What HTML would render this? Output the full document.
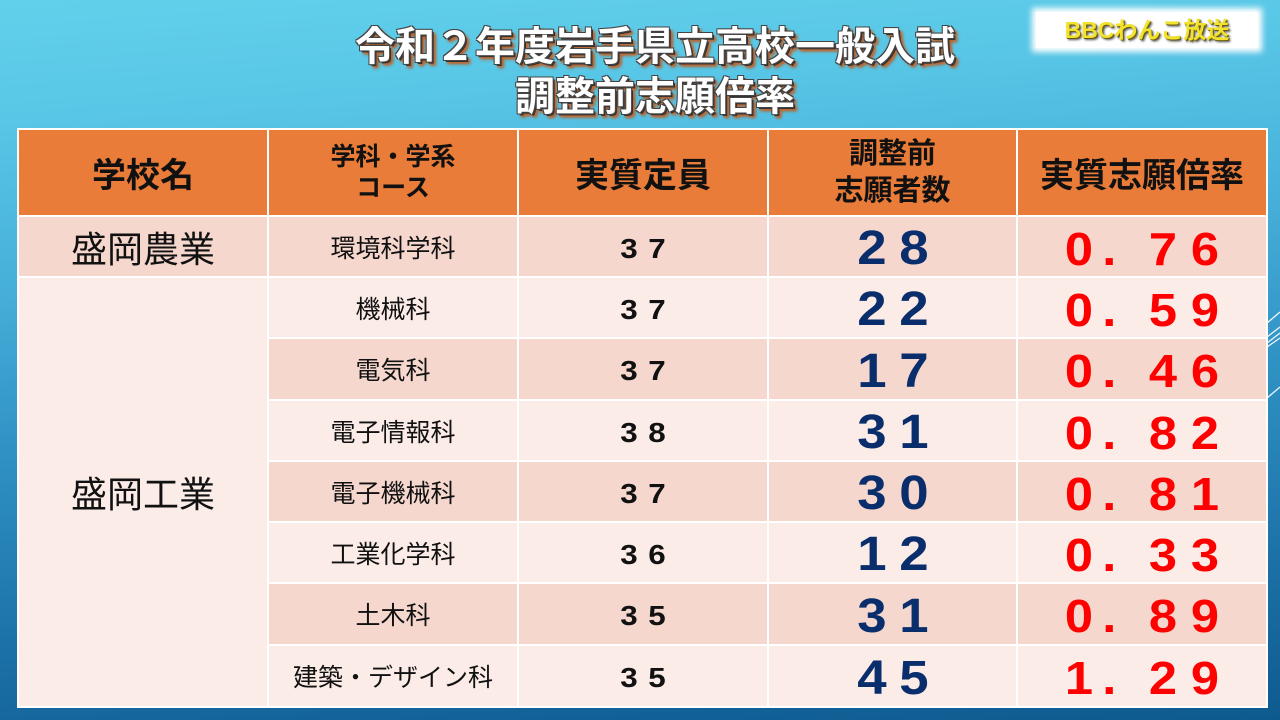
<!DOCTYPE html>
<html><head><meta charset="utf-8">
<style>
html,body{margin:0;padding:0;}
body{width:1280px;height:720px;overflow:hidden;position:relative;
background:linear-gradient(176deg,#61d1eb 0%,#58c6e6 15%,#47b0da 35%,#3193c5 55%,#1d74aa 78%,#0e5a8f 100%);
font-family:"Liberation Sans","Noto Sans CJK JP",sans-serif;}
.title{position:absolute;left:0;width:1310px;text-align:center;color:#fff;font-weight:bold;font-size:40px;line-height:50px;
font-family:"Liberation Sans","Noto Sans CJK JP",sans-serif;
text-shadow:-1px -1px 0 #444,1px -1px 0 #444,-1px 1px 0 #444,1px 1px 0 #444,2px 2px 0 #333,3px 3px 2px #c8682e,4px 4px 3px #b85a20;}
.logo{position:absolute;left:1036px;top:12px;width:222px;height:36px;background:#fff;box-shadow:0 0 6px 4px #fff;
text-align:center;line-height:36px;font-size:23px;font-weight:bold;color:#f2e22c;
text-shadow:1px 1px 0 #6a5a10,2px 2px 2px #555;}
.tbl{position:absolute;left:17px;top:128px;width:1251px;height:580px;background:#fff;}
.c{position:absolute;display:flex;align-items:center;justify-content:center;text-align:center;box-sizing:border-box;}
.h{background:#e97c39;color:#111;font-weight:bold;}
.d{background:#f5d7ce;}
.l{background:#fbece8;}
.sub{font-size:25px;color:#111;}
.sch{font-size:36px;color:#111;}
.n3,.nb,.nr{padding-top:4px;}
.n3 span{display:inline-block;width:28px;text-align:center;font-size:28px;font-weight:bold;color:#111;transform:scaleX(1.12);}
.nb span{display:inline-block;width:42px;text-align:center;font-size:48px;font-weight:bold;color:#0a2d6c;transform:scaleX(1.1);}
.nr span{display:inline-block;width:42px;text-align:center;font-size:46px;font-weight:bold;color:#ff0000;transform:scaleX(1.1);}
.nr span.p{text-align:left;text-indent:4px;}
</style></head><body>
<div class="title" style="top:22px;">令和２年度岩手県立高校一般入試</div>
<div class="title" style="top:72px;">調整前志願倍率</div>
<div class="logo">BBCわんこ放送</div>

<svg style="position:absolute;left:1262px;top:300px" width="18" height="110">
<g stroke="#fff" stroke-width="1.3" opacity="0.9">
<line x1="5" y1="23" x2="18" y2="12"/>
<line x1="5" y1="37" x2="18" y2="27"/>
<line x1="5" y1="43" x2="18" y2="33"/>
<line x1="5" y1="47" x2="18" y2="38"/>
<line x1="5" y1="98" x2="18" y2="87"/>
</g></svg>

<div class="tbl">
<!-- header -->
<div class="c h" style="left:2px;top:2px;width:248px;height:85px;font-size:34px;">学校名</div>
<div class="c h" style="left:252px;top:2px;width:248px;height:85px;font-size:25px;line-height:31px;">学科・学系<br>コース</div>
<div class="c h" style="left:502px;top:2px;width:248px;height:85px;font-size:34px;">実質定員</div>
<div class="c h" style="left:752px;top:2px;width:247px;height:85px;font-size:29px;line-height:37px;">調整前<br>志願者数</div>
<div class="c h" style="left:1001px;top:2px;width:248px;height:85px;font-size:34px;">実質志願倍率</div>

<!-- school names -->
<div class="c d sch" style="left:2px;top:89px;width:248px;height:59px;">盛岡農業</div>
<div class="c l sch" style="left:2px;top:150px;width:248px;height:428px;">盛岡工業</div>

<!-- rows -->
<div class="c d sub" style="left:252px;top:89px;width:248px;height:59px;">環境科学科</div>
<div class="c d n3" style="left:502px;top:89px;width:248px;height:59px;"><span>3</span><span>7</span></div>
<div class="c d nb" style="left:752px;top:89px;width:247px;height:59px;"><span>2</span><span>8</span></div>
<div class="c d nr" style="left:1001px;top:89px;width:248px;height:59px;"><span>0</span><span class="p">.</span><span>7</span><span>6</span></div>

<div class="c l sub" style="left:252px;top:150px;width:248px;height:59px;">機械科</div>
<div class="c l n3" style="left:502px;top:150px;width:248px;height:59px;"><span>3</span><span>7</span></div>
<div class="c l nb" style="left:752px;top:150px;width:247px;height:59px;"><span>2</span><span>2</span></div>
<div class="c l nr" style="left:1001px;top:150px;width:248px;height:59px;"><span>0</span><span class="p">.</span><span>5</span><span>9</span></div>

<div class="c d sub" style="left:252px;top:211px;width:248px;height:60px;">電気科</div>
<div class="c d n3" style="left:502px;top:211px;width:248px;height:60px;"><span>3</span><span>7</span></div>
<div class="c d nb" style="left:752px;top:211px;width:247px;height:60px;"><span>1</span><span>7</span></div>
<div class="c d nr" style="left:1001px;top:211px;width:248px;height:60px;"><span>0</span><span class="p">.</span><span>4</span><span>6</span></div>

<div class="c l sub" style="left:252px;top:273px;width:248px;height:59px;">電子情報科</div>
<div class="c l n3" style="left:502px;top:273px;width:248px;height:59px;"><span>3</span><span>8</span></div>
<div class="c l nb" style="left:752px;top:273px;width:247px;height:59px;"><span>3</span><span>1</span></div>
<div class="c l nr" style="left:1001px;top:273px;width:248px;height:59px;"><span>0</span><span class="p">.</span><span>8</span><span>2</span></div>

<div class="c d sub" style="left:252px;top:334px;width:248px;height:59px;">電子機械科</div>
<div class="c d n3" style="left:502px;top:334px;width:248px;height:59px;"><span>3</span><span>7</span></div>
<div class="c d nb" style="left:752px;top:334px;width:247px;height:59px;"><span>3</span><span>0</span></div>
<div class="c d nr" style="left:1001px;top:334px;width:248px;height:59px;"><span>0</span><span class="p">.</span><span>8</span><span>1</span></div>

<div class="c l sub" style="left:252px;top:395px;width:248px;height:59px;">工業化学科</div>
<div class="c l n3" style="left:502px;top:395px;width:248px;height:59px;"><span>3</span><span>6</span></div>
<div class="c l nb" style="left:752px;top:395px;width:247px;height:59px;"><span>1</span><span>2</span></div>
<div class="c l nr" style="left:1001px;top:395px;width:248px;height:59px;"><span>0</span><span class="p">.</span><span>3</span><span>3</span></div>

<div class="c d sub" style="left:252px;top:456px;width:248px;height:60px;">土木科</div>
<div class="c d n3" style="left:502px;top:456px;width:248px;height:60px;"><span>3</span><span>5</span></div>
<div class="c d nb" style="left:752px;top:456px;width:247px;height:60px;"><span>3</span><span>1</span></div>
<div class="c d nr" style="left:1001px;top:456px;width:248px;height:60px;"><span>0</span><span class="p">.</span><span>8</span><span>9</span></div>

<div class="c l sub" style="left:252px;top:518px;width:248px;height:60px;">建築・デザイン科</div>
<div class="c l n3" style="left:502px;top:518px;width:248px;height:60px;"><span>3</span><span>5</span></div>
<div class="c l nb" style="left:752px;top:518px;width:247px;height:60px;"><span>4</span><span>5</span></div>
<div class="c l nr" style="left:1001px;top:518px;width:248px;height:60px;"><span>1</span><span class="p">.</span><span>2</span><span>9</span></div>
</div>
</body></html>
